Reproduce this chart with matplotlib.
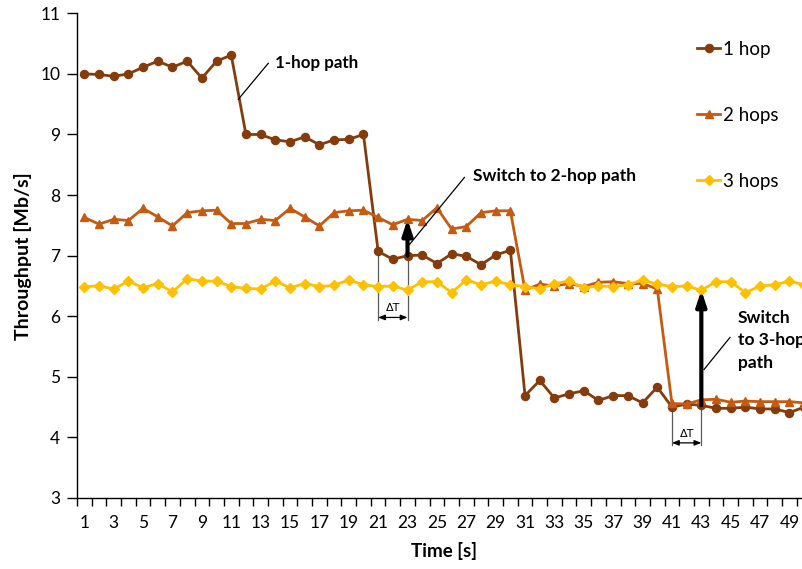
import matplotlib
matplotlib.use("Agg")
import matplotlib.pyplot as plt

plt.rcParams['font.family'] = ['Lato', 'DejaVu Sans']

# Throughput per second for each path length
time_s = list(range(1, 51))
hop1 = [10.00, 9.99, 9.96, 10.00, 10.11, 10.21, 10.11, 10.21, 9.93, 10.21,
        10.31, 9.00, 9.00, 8.91, 8.88, 8.96, 8.83, 8.91, 8.92, 9.00,
        7.07, 6.94, 7.00, 7.01, 6.87, 7.03, 6.99, 6.85, 7.01, 7.09,
        4.69, 4.94, 4.65, 4.72, 4.77, 4.61, 4.69, 4.69, 4.57, 4.83,
        4.50, 4.55, 4.53, 4.48, 4.48, 4.50, 4.47, 4.47, 4.41, 4.50]
hop2 = [7.63, 7.52, 7.60, 7.58, 7.78, 7.64, 7.49, 7.71, 7.74, 7.75,
        7.53, 7.53, 7.60, 7.58, 7.78, 7.64, 7.49, 7.71, 7.74, 7.75,
        7.63, 7.51, 7.60, 7.58, 7.79, 7.44, 7.48, 7.71, 7.74, 7.74,
        6.43, 6.53, 6.50, 6.54, 6.49, 6.56, 6.57, 6.54, 6.54, 6.45,
        4.56, 4.55, 4.62, 4.63, 4.58, 4.60, 4.59, 4.59, 4.59, 4.57]
hop3 = [6.49, 6.50, 6.45, 6.58, 6.47, 6.54, 6.40, 6.62, 6.58, 6.58,
        6.49, 6.46, 6.45, 6.58, 6.47, 6.54, 6.49, 6.51, 6.60, 6.52,
        6.49, 6.50, 6.43, 6.57, 6.57, 6.39, 6.60, 6.52, 6.58, 6.52,
        6.49, 6.45, 6.54, 6.58, 6.47, 6.50, 6.49, 6.52, 6.60, 6.53,
        6.49, 6.50, 6.43, 6.57, 6.57, 6.39, 6.50, 6.52, 6.58, 6.52]
series_labels = ["1 hop", "2 hops", "3 hops"]
y_ticks = list(range(3, 12))
x_tick_values = list(range(1, 50, 2))

# path switch events: (time the old path degrades, time the switch happens)
switch_2hop = (21, 23)
switch_3hop = (41, 43)

C1, C2, C3 = "#843C0C", "#C55A11", "#FFC000"

fig = plt.figure(figsize=(8.03, 5.69), dpi=100)
ax = fig.add_axes([77 / 803, 71 / 569, (811.5 - 77) / 803, (555.7 - 71) / 569])

ax.plot(time_s, hop1, color=C1, lw=2.0, marker="o", ms=5.8, label=series_labels[0], zorder=3)
ax.plot(time_s, hop2, color=C2, lw=2.0, marker="^", ms=6.0, label=series_labels[1], zorder=4)
ax.plot(time_s, hop3, color=C3, lw=2.0, marker="D", ms=4.6, label=series_labels[2], zorder=5)

ax.set_xlim(0.5, 50.5)
ax.set_ylim(3, 11)
ax.set_yticks(y_ticks)
ax.set_xticks(x_tick_values)
ax.set_xticks([v + 0.5 for v in range(0, 51)], minor=True)
ax.tick_params(axis="x", which="major", length=0, pad=12, labelsize=12.5)
ax.tick_params(axis="x", which="minor", length=6, width=1, direction="out")
ax.tick_params(axis="y", length=7, width=1, direction="out", pad=5, labelsize=12.5)
for s in ("top", "right"):
    ax.spines[s].set_visible(False)
for s in ("left", "bottom"):
    ax.spines[s].set_linewidth(1)
    ax.spines[s].set_color("black")

ax.set_xlabel("Time [s]", fontsize=13.5, fontweight="bold", labelpad=8)
ax.set_ylabel("Throughput [Mb/s]", fontsize=14, fontweight="bold", labelpad=6)

# switch arrows from the old path to the new one
def switch_arrow(t, y0, y1):
    ax.annotate("", xy=(t, y1), xytext=(t, y0),
                arrowprops=dict(arrowstyle="-|>,head_length=0.9,head_width=0.3",
                                mutation_scale=10, lw=3, color="black",
                                shrinkA=0, shrinkB=0),
                zorder=10)

def delta_t(t0, t1, y_top0, y_top1, y_bot, y_arrow, y_text):
    for t, yt in ((t0, y_top0), (t1, y_top1)):
        ax.plot([t, t], [y_bot, yt], color="#595959", lw=0.9, zorder=2)
    ax.annotate("", xy=(t1, y_arrow), xytext=(t0, y_arrow),
                arrowprops=dict(arrowstyle="<|-|>,head_length=0.5,head_width=0.2",
                                mutation_scale=8, lw=0.9, color="black",
                                shrinkA=0, shrinkB=0), zorder=9)
    ax.text((t0 + t1) / 2, y_text, "ΔT", ha="center", va="center", fontsize=8,
            family=["DejaVu Sans"])

t0, t1 = switch_2hop
switch_arrow(t1, hop1[t1 - 1], hop2[t1 - 1])
delta_t(t0, t1, hop1[t0 - 1], hop1[t1 - 1], 5.94, 5.98, 6.14)

t0, t1 = switch_3hop
switch_arrow(t1, hop1[t1 - 1], hop3[t1 - 1])
delta_t(t0, t1, hop1[t0 - 1], hop1[t1 - 1], 3.88, 3.91, 4.06)

# callouts
ax.plot([11.48, 13.52], [9.58, 10.175], color="black", lw=0.9, zorder=9)
ax.text(13.98, 10.175, "1-hop path", fontsize=12.2, fontweight="bold", ha="left", va="center")

ax.plot([23.12, 26.87], [7.18, 8.29], color="black", lw=0.9, zorder=9)
ax.text(27.44, 8.315, "Switch to 2-hop path", fontsize=12.5, fontweight="bold",
        ha="left", va="center")

ax.plot([43.18, 44.95], [5.12, 5.65], color="black", lw=0.9, zorder=9)
ax.text(45.5, 5.60, "Switch\nto 3-hop\npath", fontsize=12.5, fontweight="bold",
        ha="left", va="center", linespacing=1.52)

leg = ax.legend(loc="upper left", bbox_to_anchor=(697 / 803, 1 - 41 / 569),
                bbox_transform=fig.transFigure, frameon=False, fontsize=13.5,
                handlelength=1.25, handletextpad=0.12, labelspacing=2.6,
                borderpad=0, borderaxespad=0)

fig.savefig("out.png", dpi=100)
